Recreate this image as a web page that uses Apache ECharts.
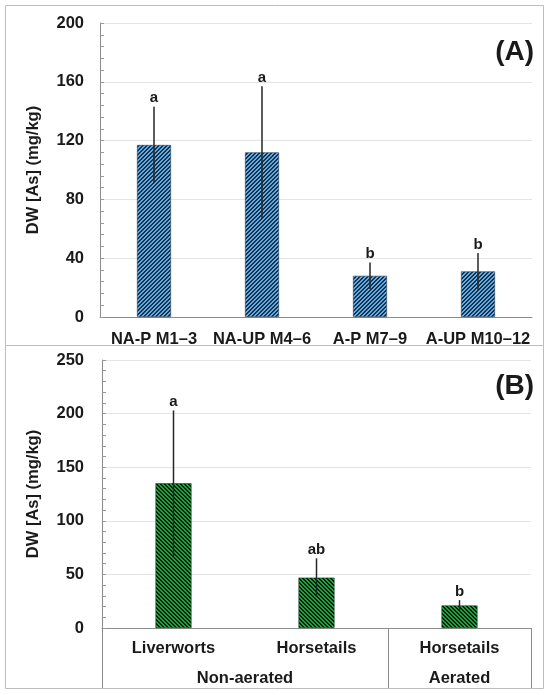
<!DOCTYPE html>
<html><head><meta charset="utf-8">
<script src="https://cdn.jsdelivr.net/npm/echarts@6/dist/echarts.min.js"></script>
<style>html,body{margin:0;padding:0;background:#fff}#c{width:550px;height:695px}</style>
</head><body><div id="c"></div>
<script>
// Panel A data
const catsA = ['NA-P M1–3', 'NA-UP M4–6', 'A-P M7–9', 'A-UP M10–12'];
const valsA = [117, 112, 28, 31];
const errA = [26, 45, 9, 12.5];
const lettersA = ['a', 'a', 'b', 'b'];
// Panel B data
const catsB = ['Liverworts', 'Horsetails', 'Horsetails'];
const valsB = [135, 47, 21];
const errB = [68, 18, 5];
const lettersB = ['a', 'ab', 'b'];
const groupsB = ['Non-aerated', 'Aerated'];
const groupCenters = [0.5, 2];        // category-index positions of group labels
const groupBounds = [-0.5, 1.5, 2.5]; // category-index positions of separators
const yTitle = 'DW [As] (mg/kg)';

function hatch(bg, fg, dir) {
  const c = document.createElement('canvas');
  c.width = 4; c.height = 4;
  const g = c.getContext('2d');
  g.fillStyle = bg; g.fillRect(0, 0, 4, 4);
  g.fillStyle = fg;
  for (let i = 0; i < 4; i++) {
    for (let w = 0; w < 2; w++) {
      const x = (i + w) % 4;
      const y = dir === '/' ? 3 - i : i;
      g.fillRect(x, y, 1, 1);
    }
  }
  return { image: c, repeat: 'repeat' };
}

const FONT = 'Arial, "Liberation Sans", sans-serif';
const lbl = { fontFamily: FONT, fontWeight: 'bold', fontSize: 16.5, color: '#1a1a1a' };

function errSeries(xi, yi, vals, errs, letters) {
  return {
    type: 'custom', xAxisIndex: xi, yAxisIndex: yi, z: 5,
    data: vals.map((v, i) => [i, v, errs[i]]),
    renderItem: function (params, api) {
      const i = api.value(0), v = api.value(1), e = api.value(2);
      const top = api.coord([i, v + e]);
      const bot = api.coord([i, v - e]);
      return {
        type: 'group',
        children: [
          { type: 'line', shape: { x1: top[0], y1: top[1], x2: bot[0], y2: bot[1] },
            style: { stroke: '#262626', lineWidth: 1.5 } },
          { type: 'text', x: top[0], y: top[1] - 1,
            style: { text: letters[params.dataIndex], textAlign: 'center', textVerticalAlign: 'bottom',
                     font: 'bold 15px ' + FONT, fill: '#1a1a1a' } }
        ]
      };
    }
  };
}

const chart = echarts.init(document.getElementById('c'), null, { renderer: 'canvas' });
const gridLine = { show: true, lineStyle: { color: '#e4e4e4', width: 1 } };
const axLine = { show: true, onZero: false, lineStyle: { color: '#8c8c8c', width: 1 } };

chart.setOption({
  animation: false,
  backgroundColor: '#fff',
  grid: [
    { left: 100, top: 23, width: 432, height: 294 },
    { left: 102, top: 360, width: 429, height: 268 }
  ],
  xAxis: [
    { type: 'category', gridIndex: 0, data: catsA, axisLine: axLine, axisTick: { show: false },
      axisLabel: Object.assign({ margin: 14, interval: 0 }, lbl) },
    { type: 'category', gridIndex: 1, data: catsB, axisLine: axLine, axisTick: { show: false },
      axisLabel: Object.assign({ margin: 12, interval: 0 }, lbl) },
    { type: 'value', gridIndex: 1, min: -0.5, max: 2.5, position: 'bottom',
      axisLine: { show: false, onZero: false }, splitLine: { show: false },
      axisTick: { show: true, customValues: groupBounds, length: 60, lineStyle: { color: '#8c8c8c', width: 1 } },
      axisLabel: Object.assign({ margin: 42, customValues: groupCenters,
        formatter: v => groupsB[groupCenters.indexOf(v)] || '' }, lbl) }
  ],
  yAxis: [
    { type: 'value', gridIndex: 0, min: 0, max: 200, interval: 40,
      name: yTitle, nameLocation: 'middle', nameGap: 58,
      nameTextStyle: { fontFamily: FONT, fontWeight: 'bold', fontSize: 16.5, color: '#1a1a1a' },
      axisLine: axLine, axisTick: { show: true, inside: true, length: 4, lineStyle: { color: '#999' } },
      minorTick: { show: true, splitNumber: 5, length: 4, lineStyle: { color: '#999' } },
      splitLine: gridLine, axisLabel: Object.assign({ margin: 16 }, lbl) },
    { type: 'value', gridIndex: 1, min: 0, max: 250, interval: 50,
      name: yTitle, nameLocation: 'middle', nameGap: 60,
      nameTextStyle: { fontFamily: FONT, fontWeight: 'bold', fontSize: 16.5, color: '#1a1a1a' },
      axisLine: axLine, axisTick: { show: true, inside: true, length: 4, lineStyle: { color: '#999' } },
      minorTick: { show: true, splitNumber: 5, length: 4, lineStyle: { color: '#999' } },
      splitLine: gridLine, axisLabel: Object.assign({ margin: 18 }, lbl) }
  ],
  series: [
    { type: 'bar', xAxisIndex: 0, yAxisIndex: 0, data: valsA, barWidth: 34,
      itemStyle: { color: hatch('#5aaee2', '#1d2f4f', '/'), borderColor: '#2b3d5c', borderWidth: 0.6 } },
    errSeries(0, 0, valsA, errA, lettersA),
    { type: 'bar', xAxisIndex: 1, yAxisIndex: 1, data: valsB, barWidth: 36,
      itemStyle: { color: hatch('#14a83c', '#0b1d0f', '\\'), borderColor: '#1c3a22', borderWidth: 0.6 } },
    errSeries(1, 1, valsB, errB, lettersB)
  ],
  graphic: [
    { type: 'rect', shape: { x: 5.5, y: 5.5, width: 538, height: 340 }, style: { fill: 'none', stroke: '#bdbdbd', lineWidth: 1 }, z: -1 },
    { type: 'rect', shape: { x: 5.5, y: 345.5, width: 538, height: 343 }, style: { fill: 'none', stroke: '#bdbdbd', lineWidth: 1 }, z: -1 },
    { type: 'text', right: 16, top: 38, style: { text: '(A)', font: 'bold 28px ' + FONT, fill: '#1a1a1a' } },
    { type: 'text', right: 16, top: 372, style: { text: '(B)', font: 'bold 28px ' + FONT, fill: '#1a1a1a' } }
  ]
});
</script></body></html>
